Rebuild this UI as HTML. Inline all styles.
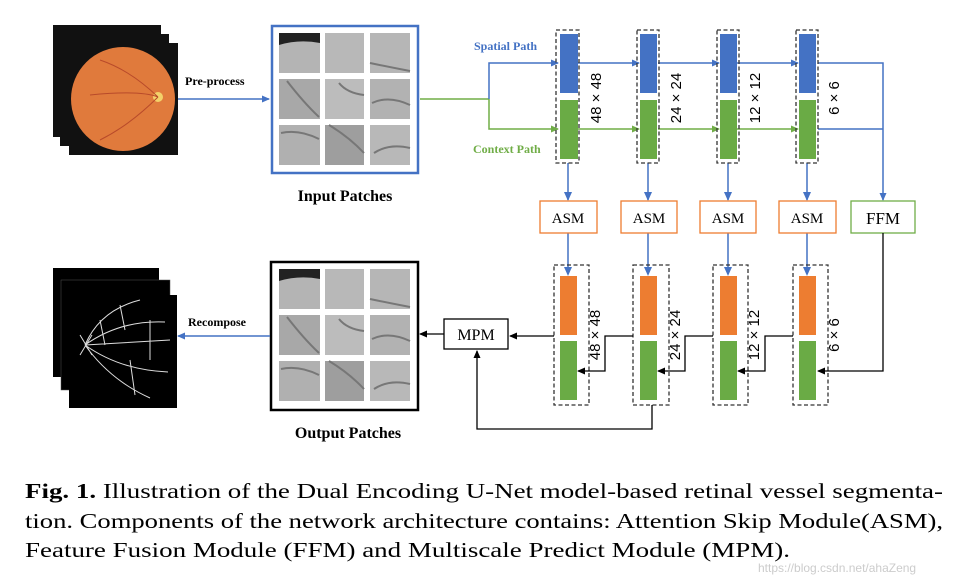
<!DOCTYPE html>
<html><head><meta charset="utf-8"><style>body{margin:0;background:#fff}svg{display:block}</style></head><body>
<svg width="973" height="583" viewBox="0 0 973 583" xmlns="http://www.w3.org/2000/svg" font-family="Liberation Serif, serif">
<defs>
<marker id="ab" markerWidth="8" markerHeight="8" refX="7" refY="4" orient="auto" markerUnits="userSpaceOnUse"><path d="M0,0.5 L8,4 L0,7.5z" fill="#4472c4"/></marker>
<marker id="ag" markerWidth="8" markerHeight="8" refX="7" refY="4" orient="auto" markerUnits="userSpaceOnUse"><path d="M0,0.5 L8,4 L0,7.5z" fill="#70ad47"/></marker>
<marker id="ak" markerWidth="8" markerHeight="8" refX="7" refY="4" orient="auto" markerUnits="userSpaceOnUse"><path d="M0,0.5 L8,4 L0,7.5z" fill="#000"/></marker>
<g id="pat">
<rect x="0" y="0" width="41" height="40" fill="#b4b4b4"/><rect x="46" y="0" width="39" height="40" fill="#b8b8b8"/><rect x="91" y="0" width="40" height="40" fill="#b6b6b6"/>
<rect x="0" y="46" width="41" height="40" fill="#a8a8a8"/><rect x="46" y="46" width="39" height="40" fill="#bcbcbc"/><rect x="91" y="46" width="40" height="40" fill="#b2b2b2"/>
<rect x="0" y="92" width="41" height="40" fill="#b0b0b0"/><rect x="46" y="92" width="39" height="40" fill="#9e9e9e"/><rect x="91" y="92" width="40" height="40" fill="#b8b8b8"/>
<path d="M0,0 L41,0 L41,10 Q20,6 0,12z" fill="#222"/>
<path d="M8,48 Q25,70 40,84 M60,50 Q68,60 85,62 M93,70 Q110,62 131,72 M2,100 Q20,96 40,106 M50,92 Q70,104 85,120 M95,120 Q110,110 131,115 M91,30 Q110,34 131,38" stroke="#777" stroke-width="2" fill="none"/>
</g>
</defs>
<rect x="53" y="25" width="108" height="112" fill="#111"/>
<rect x="60" y="34" width="109" height="112" fill="#111"/>
<rect x="69" y="43" width="109" height="112" fill="#111"/>
<circle cx="123" cy="99" r="52" fill="#e07a3c"/>
<circle cx="158" cy="97" r="5" fill="#f3d26a"/>
<path d="M158,97 Q130,70 100,60 M158,97 Q130,125 100,140 M158,97 Q140,90 90,95" stroke="#b84a2a" stroke-width="1" fill="none"/>
<text x="185" y="85" font-size="12" font-weight="bold">Pre-process</text>
<line x1="178" y1="99" x2="269" y2="99" stroke="#4472c4" stroke-width="1.5" marker-end="url(#ab)"/>
<rect x="272" y="26" width="146" height="147" fill="#fff" stroke="#4472c4" stroke-width="2.5"/>
<use href="#pat" x="279" y="33"/>
<text x="345" y="201" font-size="16" font-weight="bold" text-anchor="middle">Input Patches</text>
<rect x="271" y="262" width="147" height="148" fill="#fff" stroke="#000" stroke-width="2.5"/>
<use href="#pat" x="279" y="269"/>
<text x="348" y="438" font-size="16" font-weight="bold" text-anchor="middle">Output Patches</text>
<rect x="53" y="268" width="106" height="109" fill="#000"/>
<rect x="61" y="280" width="109" height="110" fill="#000" stroke="#555" stroke-width="0.5"/>
<rect x="69" y="295" width="108" height="113" fill="#000"/>
<g stroke="#ddd" stroke-width="1" fill="none">
<path d="M85,345 Q100,310 140,300 M85,345 Q110,380 150,398 M85,345 L170,340 M85,345 Q120,320 165,322 M85,345 Q120,370 168,372 M100,320 L105,345 M120,305 L125,330 M130,360 L135,395 M150,320 L150,360 M80,335 L92,355 M80,355 L92,335"/>
</g>
<text x="188" y="326" font-size="12" font-weight="bold">Recompose</text>
<line x1="270" y1="336" x2="178" y2="336" stroke="#4472c4" stroke-width="1.5" marker-end="url(#ab)"/>
<g stroke-width="1.5" fill="none">
<path d="M420,99 L489,99" stroke="#70ad47"/>
<path d="M489,99 L489,63 L558,63" stroke="#4472c4" marker-end="url(#ab)"/>
<path d="M489,99 L489,129 L558,129" stroke="#70ad47" marker-end="url(#ag)"/>
<path d="M578,63 L639,63" stroke="#4472c4" marker-end="url(#ab)"/>
<path d="M658,63 L719,63" stroke="#4472c4" marker-end="url(#ab)"/>
<path d="M737,63 L798,63" stroke="#4472c4" marker-end="url(#ab)"/>
<path d="M578,129 L639,129" stroke="#70ad47" marker-end="url(#ag)"/>
<path d="M658,129 L719,129" stroke="#70ad47" marker-end="url(#ag)"/>
<path d="M737,129 L798,129" stroke="#70ad47" marker-end="url(#ag)"/>
<path d="M818,63 L883,63 L883,200" stroke="#4472c4" marker-end="url(#ab)"/>
<path d="M818,129 L883,129" stroke="#4472c4"/>
<path d="M568,163 L568,200 M648,163 L648,200 M728,163 L728,200 M807,163 L807,200" stroke="#4472c4"/>
<path d="M568,233 L568,274 M648,233 L648,274 M728,233 L728,274 M807,233 L807,274" stroke="#4472c4"/>
</g>
<g fill="#4472c4">
<path d="M564,192 L568,201 L572,192z"/><path d="M644,192 L648,201 L652,192z"/><path d="M724,192 L728,201 L732,192z"/><path d="M803,192 L807,201 L811,192z"/>
<path d="M564,267 L568,276 L572,267z"/><path d="M644,267 L648,276 L652,267z"/><path d="M724,267 L728,276 L732,267z"/><path d="M803,267 L807,276 L811,267z"/>
</g>
<text x="474" y="50" font-size="12" font-weight="bold" fill="#4472c4">Spatial Path</text>
<text x="473" y="153" font-size="12" font-weight="bold" fill="#70ad47">Context Path</text>
<g>
<rect x="556" y="30" width="23" height="133" fill="none" stroke="#333" stroke-dasharray="4,2.5" stroke-width="1.3"/>
<rect x="560" y="34" width="18" height="59" fill="#4472c4"/><rect x="560" y="100" width="18" height="59" fill="#6aab45"/>
<rect x="637" y="30" width="22" height="133" fill="none" stroke="#333" stroke-dasharray="4,2.5" stroke-width="1.3"/>
<rect x="640" y="34" width="17" height="59" fill="#4472c4"/><rect x="640" y="100" width="17" height="59" fill="#6aab45"/>
<rect x="717" y="30" width="22" height="133" fill="none" stroke="#333" stroke-dasharray="4,2.5" stroke-width="1.3"/>
<rect x="720" y="34" width="17" height="59" fill="#4472c4"/><rect x="720" y="100" width="17" height="59" fill="#6aab45"/>
<rect x="796" y="30" width="22" height="133" fill="none" stroke="#333" stroke-dasharray="4,2.5" stroke-width="1.3"/>
<rect x="799" y="34" width="17" height="59" fill="#4472c4"/><rect x="799" y="100" width="17" height="59" fill="#6aab45"/>
</g>
<g font-family="Liberation Sans, sans-serif" font-size="15">
<text transform="translate(601,98) rotate(-90)" text-anchor="middle">48 × 48</text>
<text transform="translate(681,98) rotate(-90)" text-anchor="middle">24 × 24</text>
<text transform="translate(760,98) rotate(-90)" text-anchor="middle">12 × 12</text>
<text transform="translate(839,98) rotate(-90)" text-anchor="middle">6 × 6</text>
</g>
<g fill="#fff" stroke-width="1.3">
<rect x="540" y="201" width="57" height="32" stroke="#ed7d31"/>
<rect x="621" y="201" width="56" height="32" stroke="#ed7d31"/>
<rect x="700" y="201" width="56" height="32" stroke="#ed7d31"/>
<rect x="779" y="201" width="57" height="32" stroke="#ed7d31"/>
<rect x="851" y="201" width="64" height="32" stroke="#70ad47"/>
<rect x="444" y="319" width="64" height="30" stroke="#000"/>
</g>
<g font-size="15" text-anchor="middle">
<text x="568" y="223">ASM</text><text x="649" y="223">ASM</text><text x="728" y="223">ASM</text><text x="807" y="223">ASM</text>
<text x="883" y="224" font-size="17">FFM</text><text x="476" y="340" font-size="16">MPM</text>
</g>
<g>
<rect x="554" y="265" width="35" height="140" fill="none" stroke="#333" stroke-dasharray="4,2.5" stroke-width="1.3"/>
<rect x="560" y="276" width="17" height="59" fill="#ed7d31"/><rect x="560" y="341" width="17" height="59" fill="#6aab45"/>
<rect x="633" y="265" width="36" height="140" fill="none" stroke="#333" stroke-dasharray="4,2.5" stroke-width="1.3"/>
<rect x="640" y="276" width="17" height="59" fill="#ed7d31"/><rect x="640" y="341" width="17" height="59" fill="#6aab45"/>
<rect x="713" y="265" width="35" height="140" fill="none" stroke="#333" stroke-dasharray="4,2.5" stroke-width="1.3"/>
<rect x="720" y="276" width="17" height="59" fill="#ed7d31"/><rect x="720" y="341" width="17" height="59" fill="#6aab45"/>
<rect x="793" y="265" width="35" height="140" fill="none" stroke="#333" stroke-dasharray="4,2.5" stroke-width="1.3"/>
<rect x="799" y="276" width="17" height="59" fill="#ed7d31"/><rect x="799" y="341" width="17" height="59" fill="#6aab45"/>
</g>
<g font-family="Liberation Sans, sans-serif" font-size="15">
<text transform="translate(600,335) rotate(-90)" text-anchor="middle">48 × 48</text>
<text transform="translate(680,335) rotate(-90)" text-anchor="middle">24 × 24</text>
<text transform="translate(759,335) rotate(-90)" text-anchor="middle">12 × 12</text>
<text transform="translate(839,335) rotate(-90)" text-anchor="middle">6 × 6</text>
</g>
<g stroke="#000" stroke-width="1.3" fill="none">
<path d="M554,336 L510,336" marker-end="url(#ak)"/>
<path d="M444,334 L420,334" marker-end="url(#ak)"/>
<path d="M633,336 L605,336 L605,371 L578,371" marker-end="url(#ak)"/>
<path d="M713,336 L685,336 L685,371 L658,371" marker-end="url(#ak)"/>
<path d="M793,336 L765,336 L765,371 L738,371" marker-end="url(#ak)"/>
<path d="M883,233 L883,371 L818,371" marker-end="url(#ak)"/>
<path d="M652,405 L652,429 L477,429 L477,351" marker-end="url(#ak)"/>
</g>
<g font-size="21">
<text x="25" y="498" textLength="918" lengthAdjust="spacingAndGlyphs"><tspan font-weight="bold">Fig. 1.</tspan> Illustration of the Dual Encoding U-Net model-based retinal vessel segmenta-</text>
<text x="25" y="528" textLength="918" lengthAdjust="spacingAndGlyphs">tion. Components of the network architecture contains: Attention Skip Module(ASM),</text>
<text x="25" y="557" textLength="765" lengthAdjust="spacingAndGlyphs">Feature Fusion Module (FFM) and Multiscale Predict Module (MPM).</text>
</g>
<text x="758" y="572" font-family="Liberation Sans, sans-serif" font-size="12" fill="#ccc">https://blog.csdn.net/ahaZeng</text>
</svg>
</body></html>
